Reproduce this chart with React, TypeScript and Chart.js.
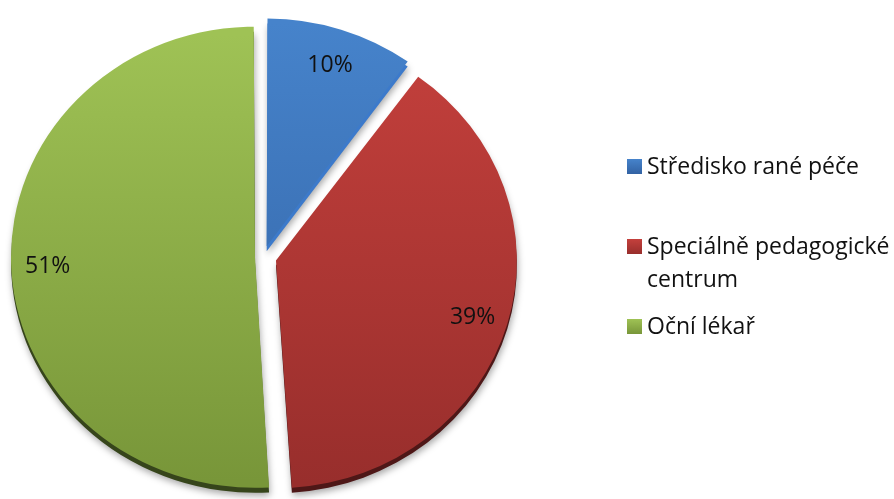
import React, { useEffect, useRef } from "react";
import { Chart, registerables } from "chart.js";

Chart.register(...registerables);

// ---- data ----
const categories = ["Středisko rané péče", "Speciálně pedagogické centrum", "Oční lékař"];
const shares = [10, 39, 51];

// ---- styles ----
const topColors = ["#4683cb", "#c4403c", "#9fc255"];
const bottomColors = ["#3262a3", "#982e2c", "#789639"];
const rimColors = ["#3c7acb", "#4e1717", "#36451b"];
const explode = [48, 54, 32];

const W = 894;
const H = 499;
const CX = 263;
const CY = 257;
const R = 236;
const SQUASH = 0.945;
const FONT = "'Open Sans', 'Noto Sans', sans-serif";
const LEGEND_LEFT = 627;
const LEGEND_TOPS = [149, 229, 309];

const pie3dPlugin = {
  id: "pie3d",
  beforeDatasetsDraw(chart: any) {
    const ctx = chart.ctx;
    const meta = chart.getDatasetMeta(0);
    const cy = meta.data.length ? meta.data[0].y : CY;
    ctx.save();
    ctx.translate(0, cy);
    ctx.scale(1, SQUASH);
    ctx.translate(0, -cy);
    // side rim + soft shadow
    ctx.save();
    ctx.translate(0, 5 / SQUASH);
    ctx.shadowColor = "rgba(0,0,0,0.35)";
    ctx.shadowBlur = 7;
    ctx.shadowOffsetX = 1;
    ctx.shadowOffsetY = 3;
    meta.data.forEach((arc: any, i: number) => {
      const o = arc.options;
      arc.options = { ...o, backgroundColor: rimColors[i], borderWidth: 0 };
      arc.draw(ctx);
      arc.options = o;
    });
    ctx.restore();
  },
  afterDatasetsDraw(chart: any) {
    const ctx = chart.ctx;
    ctx.restore();
    const meta = chart.getDatasetMeta(0);
    ctx.save();
    ctx.font = `23px ${FONT}`;
    ctx.fillStyle = "#111";
    ctx.textAlign = "center";
    ctx.textBaseline = "middle";
    meta.data.forEach((arc: any, i: number) => {
      const p = arc.getProps(["x", "y", "startAngle", "endAngle", "outerRadius"], true);
      const cy = p.y;
      const mid = (p.startAngle + p.endAngle) / 2;
      const off = (arc.options.offset || 0) / 4;
      const fix = 1 - Math.sin(Math.min(Math.PI, p.endAngle - p.startAngle));
      const r = p.outerRadius + off * fix;
      const d = off + r * 0.85;
      const x = p.x + Math.cos(mid) * d;
      const y = cy + Math.sin(mid) * d * SQUASH;
      ctx.fillText(`${shares[i]}%`, x, y + 3);
    });
    ctx.restore();
  },
};

export default function App() {
  const ref = useRef<HTMLCanvasElement | null>(null);

  useEffect(() => {
    document.body.style.margin = "0";
    const canvas = ref.current;
    if (!canvas) return;
    const chart = new Chart(canvas, {
      type: "pie",
      data: {
        labels: categories,
        datasets: [
          {
            data: shares,
            backgroundColor: (c: any) => {
              const i = c.dataIndex ?? 0;
              const g = c.chart.ctx.createLinearGradient(0, CY - R, 0, CY + R);
              g.addColorStop(0, topColors[i]);
              g.addColorStop(1, bottomColors[i]);
              return g;
            },
            borderWidth: 0,
            offset: explode,
          },
        ],
      },
      options: {
        responsive: false,
        animation: false,
        events: [],
        radius: R,
        layout: { padding: { top: 2 * CY - H, left: 0, right: W - 2 * CX, bottom: 0 } },
        plugins: {
          legend: { display: false },
          tooltip: { enabled: false },
        },
      } as any,
      plugins: [pie3dPlugin],
    });
    return () => chart.destroy();
  }, []);

  return (
    <div style={{ position: "relative", width: W, height: H, overflow: "hidden", background: "#fff" }}>
      <canvas ref={ref} width={W} height={H} style={{ display: "block" }} />
      {categories.map((c, i) => (
        <div
          key={c}
          style={{
            position: "absolute",
            left: LEGEND_LEFT,
            top: LEGEND_TOPS[i],
            width: 300,
            fontFamily: FONT,
            fontSize: 23,
            lineHeight: "33px",
            color: "#111",
          }}
        >
          <span
            style={{
              position: "absolute",
              left: 0,
              top: 10,
              width: 15,
              height: 15,
              background: `linear-gradient(${topColors[i]}, ${bottomColors[i]})`,
            }}
          />
          <div style={{ marginLeft: 20, width: 262 }}>{c}</div>
        </div>
      ))}
    </div>
  );
}
